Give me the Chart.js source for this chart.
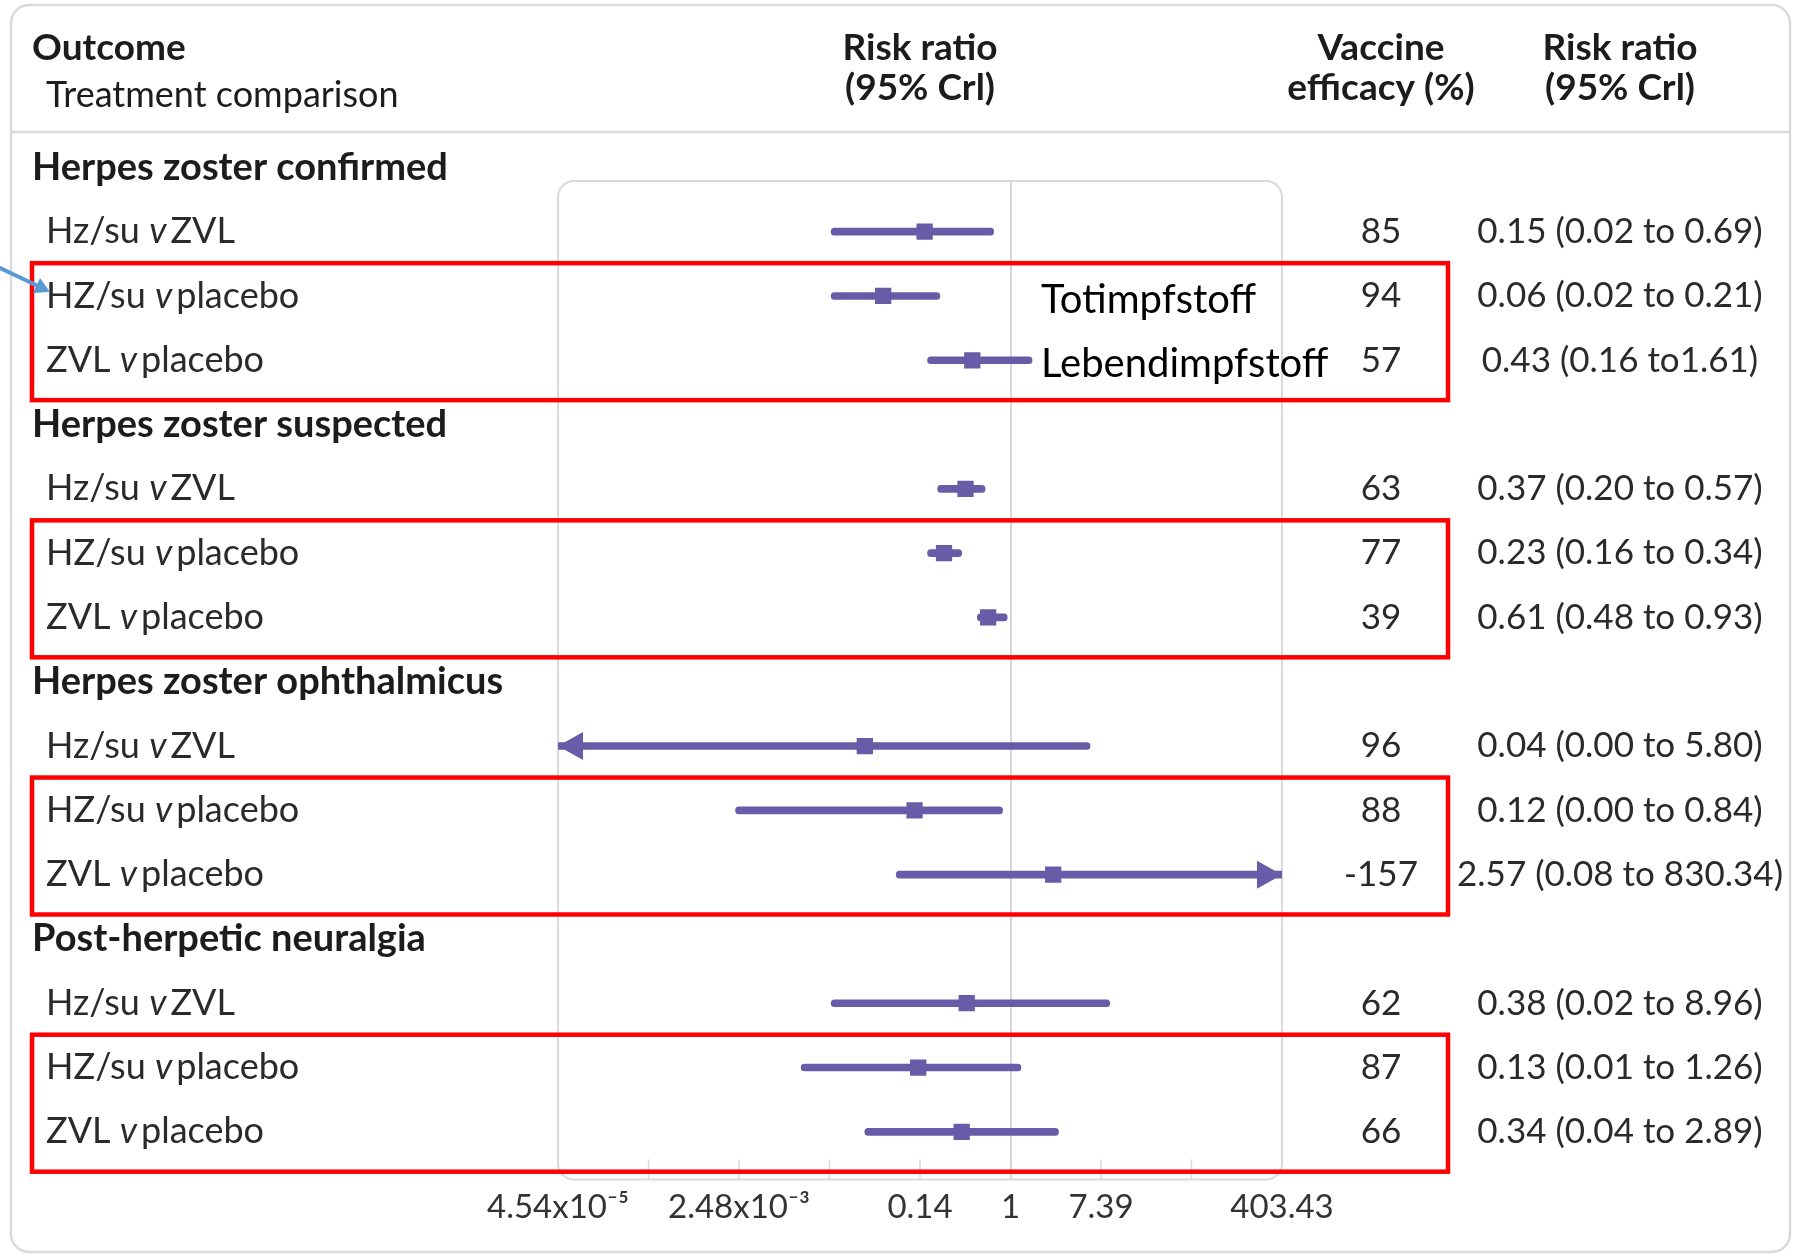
<!DOCTYPE html>
<html>
<head>
<meta charset="utf-8">
<title>Herpes zoster vaccines - network meta-analysis</title>
<script src="https://cdn.jsdelivr.net/npm/chart.js@4.4.1/dist/chart.umd.min.js"></script>
<style>
  html, body { margin: 0; padding: 0; background: #fff; }
  #wrap { width: 1798px; height: 1256px; position: relative; }
</style>
</head>
<body>
<div id="wrap"><canvas id="forestChart"></canvas></div>
<script>
const outcomes = ['Herpes zoster confirmed', 'Herpes zoster suspected', 'Herpes zoster ophthalmicus', 'Post-herpetic neuralgia'];
const comparisons = ['Hz/su v ZVL', 'HZ/su v placebo', 'ZVL v placebo'];

// one entry per row, outcome by outcome
const riskRatio = [0.15, 0.06, 0.43, 0.37, 0.23, 0.61, 0.04, 0.12, 2.57, 0.38, 0.13, 0.34];
const lowerCrI = [0.019, 0.019, 0.16, 0.20, 0.16, 0.48, 0.00001, 0.0023, 0.08, 0.019, 0.0098, 0.04];
const upperCrI = [0.69, 0.21, 1.61, 0.57, 0.34, 0.93, 5.80, 0.84, 830.34, 8.96, 1.26, 2.89];
const efficacy = [85, 94, 57, 63, 77, 39, 96, 88, -157, 62, 87, 66];
const crITexts = [
    '0.15 (0.02 to 0.69)', '0.06 (0.02 to 0.21)', '0.43 (0.16 to1.61)',
    '0.37 (0.20 to 0.57)', '0.23 (0.16 to 0.34)', '0.61 (0.48 to 0.93)',
    '0.04 (0.00 to 5.80)', '0.12 (0.00 to 0.84)', '2.57 (0.08 to 830.34)',
    '0.38 (0.02 to 8.96)', '0.13 (0.01 to 1.26)', '0.34 (0.04 to 2.89)'
];

// axis is on natural log scale
const tickExponents = [-10, -8, -6, -4, -2, 0, 2, 4, 6];
const tickLabels = ['4.54x10\u207B\u2075', '', '2.48x10\u207B\u00B3', '', '0.14', '1', '7.39', '', '403.43'];

const noteLabels = ['Totimpfstoff', 'Lebendimpfstoff'];

const purple = 'rgb(104, 91, 168)';
const frameGray = '#d9d9de';
const textColor = '#2a2a2a';
const rowFont = '36px Lato';

const rows = riskRatio.map((v, i) => i);

// each outcome takes 4 slots: header + 3 comparisons
function slotOfRow(i) {
    return Math.floor(i / 3) * 4 + 1 + (i % 3);
}

function drawComparison(ctx, label, x0, yy) {
    const parts = label.split(' v ');
    ctx.font = rowFont;
    ctx.fillText(parts[0], x0, yy);
    let cx = x0 + ctx.measureText(parts[0] + ' ').width;
    ctx.font = 'italic ' + rowFont;
    ctx.fillText('v', cx, yy);
    cx += ctx.measureText('v').width + 4;
    ctx.font = rowFont;
    ctx.fillText(parts[1], cx, yy);
}

const pageDecor = {
    id: 'pageDecor',
    beforeDraw(chart) {
        const ctx = chart.ctx;
        const a = chart.chartArea;
        const x = chart.scales.x;
        const y = chart.scales.y;
        ctx.save();
        ctx.fillStyle = '#fff';
        ctx.fillRect(0, 0, chart.width, chart.height);

        // outer panel and header rule
        ctx.strokeStyle = frameGray;
        ctx.lineWidth = 2.5;
        ctx.beginPath();
        ctx.roundRect(11, 5, 1779, 1247, 18);
        ctx.stroke();
        ctx.beginPath();
        ctx.moveTo(11, 132);
        ctx.lineTo(1790, 132);
        ctx.stroke();

        // plot frame
        ctx.lineWidth = 2;
        ctx.beginPath();
        ctx.roundRect(a.left, a.top, a.right - a.left, a.bottom - a.top, 16);
        ctx.stroke();

        // short tick marks inside the frame
        ctx.lineWidth = 1.5;
        x.ticks.forEach(t => {
            const px = x.getPixelForValue(t.value);
            if (px < a.left + 2 || px > a.right - 2) return;
            ctx.beginPath();
            ctx.moveTo(px, a.bottom);
            ctx.lineTo(px, a.bottom - 20);
            ctx.stroke();
        });

        // column headers
        ctx.fillStyle = '#1c1c1c';
        ctx.textBaseline = 'middle';
        ctx.textAlign = 'left';
        ctx.font = 'bold 37px Lato';
        ctx.fillText('Outcome', 32, 48);
        ctx.font = '36px Lato';
        ctx.fillText('Treatment comparison', 46, 95);
        ctx.textAlign = 'center';
        ctx.font = 'bold 37px Lato';
        ctx.fillText('Risk ratio', 920, 48);
        ctx.fillText('(95% Crl)', 920, 88);
        ctx.fillText('Vaccine', 1381, 48);
        ctx.fillText('efficacy (%)', 1381, 88);
        ctx.fillText('Risk ratio', 1620, 48);
        ctx.fillText('(95% Crl)', 1620, 88);

        // outcome headers
        ctx.textAlign = 'left';
        ctx.font = 'bold 38px Lato';
        outcomes.forEach((name, g) => {
            ctx.fillText(name, 32, y.getPixelForValue(g * 4));
        });

        // rows
        ctx.fillStyle = textColor;
        rows.forEach(i => {
            const py = y.getPixelForValue(slotOfRow(i));
            ctx.textAlign = 'left';
            drawComparison(ctx, comparisons[i % 3], 46, py);
            ctx.textAlign = 'center';
            ctx.font = '35px Lato';
            ctx.fillText(String(efficacy[i]), 1381, py);
            ctx.fillText(crITexts[i], 1620, py);
        });
        ctx.restore();
    },
    afterDraw(chart) {
        const ctx = chart.ctx;
        const a = chart.chartArea;
        const x = chart.scales.x;
        const y = chart.scales.y;
        ctx.save();

        // arrow heads where the interval runs off the axis
        ctx.fillStyle = purple;
        rows.forEach(i => {
            const py = y.getPixelForValue(slotOfRow(i));
            if (lowerCrI[i] < x.min) {
                ctx.beginPath();
                ctx.moveTo(a.left, py);
                ctx.lineTo(a.left + 25, py - 14);
                ctx.lineTo(a.left + 25, py + 14);
                ctx.closePath();
                ctx.fill();
            }
            if (upperCrI[i] > x.max) {
                ctx.beginPath();
                ctx.moveTo(a.right, py);
                ctx.lineTo(a.right - 25, py - 14);
                ctx.lineTo(a.right - 25, py + 14);
                ctx.closePath();
                ctx.fill();
            }
        });

        // red boxes around the placebo comparisons
        ctx.strokeStyle = '#ff0000';
        ctx.lineWidth = 4.5;
        outcomes.forEach((name, g) => {
            const top = y.getPixelForValue(g * 4 + 1.49);
            const bottom = y.getPixelForValue(g * 4 + 3.62);
            ctx.strokeRect(32, top, 1448 - 32, bottom - top);
        });

        // notes
        ctx.fillStyle = '#000';
        ctx.font = '40px Lato';
        ctx.textAlign = 'left';
        ctx.textBaseline = 'middle';
        noteLabels.forEach((t, k) => {
            ctx.fillText(t, 1041, y.getPixelForValue(2 + k) + 4);
        });

        // blue pointer
        ctx.strokeStyle = '#5b9bd5';
        ctx.fillStyle = '#5b9bd5';
        ctx.lineWidth = 4;
        ctx.beginPath();
        ctx.moveTo(-2, 267);
        ctx.lineTo(38, 286);
        ctx.stroke();
        ctx.beginPath();
        ctx.moveTo(50, 292);
        ctx.lineTo(33, 293);
        ctx.lineTo(40, 278);
        ctx.closePath();
        ctx.fill();
        ctx.restore();
    }
};

const ctx = document.getElementById('forestChart').getContext('2d');

const forestChart = new Chart(ctx, {
    data: {
        datasets: [{
            type: 'scatter',
            data: rows.map(i => ({ x: riskRatio[i], y: slotOfRow(i) })),
            pointStyle: 'rect',
            pointRadius: 11.5,
            backgroundColor: purple,
            borderWidth: 0
        }, {
            type: 'bar',
            indexAxis: 'y',
            data: rows.map(i => ({ y: slotOfRow(i), x: [lowerCrI[i], upperCrI[i]] })),
            backgroundColor: purple,
            barThickness: 7,
            borderRadius: 3.5,
            borderSkipped: false,
            clip: 0
        }]
    },
    options: {
        responsive: true,
        maintainAspectRatio: false,
        animation: false,
        events: [],
        layout: {
            padding: { left: 558, right: 516, top: 181, bottom: 21 }
        },
        plugins: {
            legend: { display: false },
            tooltip: { enabled: false }
        },
        scales: {
            x: {
                type: 'logarithmic',
                bounds: 'data',
                min: Math.exp(-10),
                max: Math.exp(6),
                afterBuildTicks: scale => {
                    scale.ticks = tickExponents.map(e => ({ value: Math.exp(e) }));
                },
                grid: {
                    drawTicks: false,
                    color: c => (c.tick && c.tick.value === 1) ? '#d6d6da' : 'rgba(0,0,0,0)',
                    lineWidth: 2
                },
                border: { display: false },
                ticks: {
                    autoSkip: false,
                    maxRotation: 0,
                    minRotation: 0,
                    padding: 8,
                    color: '#333',
                    font: { family: 'Lato', size: 33 },
                    callback: (v, i) => tickLabels[i]
                }
            },
            y: {
                type: 'linear',
                display: false,
                reverse: true,
                offset: false,
                grid: { offset: false },
                bounds: 'data',
                min: 0.212,
                max: 15.74
            }
        }
    },
    plugins: [pageDecor]
});
</script>
</body>
</html>
